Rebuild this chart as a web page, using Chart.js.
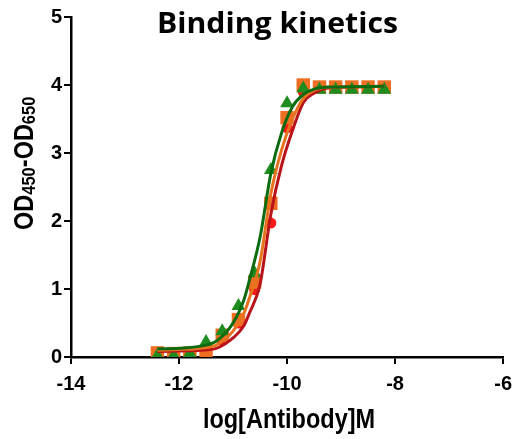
<!DOCTYPE html>
<html>
<head>
<meta charset="utf-8">
<script src="https://cdn.jsdelivr.net/npm/chart.js@4/dist/chart.umd.min.js"></script>
<style>
  body { margin: 0; background: #fff; }
  canvas { display: block; }
</style>
</head>
<body>
<canvas id="binding" width="520" height="439"></canvas>
<script>
// measured points (2-fold dilutions, log M)
const logConc = [-12.4, -12.1, -11.8, -11.5, -11.2, -10.9, -10.6, -10.3, -10.0, -9.7, -9.4, -9.1, -8.8, -8.5, -8.2];
const greenOD  = [0.02, 0.02, 0.05, 0.22, 0.38, 0.75, 1.23, 2.75, 3.73, 3.95, 3.93, 3.93, 3.93, 3.93, 3.93];
const orangeOD = [0.06, 0.05, 0.06, 0.08, 0.32, 0.55, 1.10, 2.26, 3.52, 4.00, 3.97, 3.97, 3.97, 3.97, 3.97];
const redOD    = [0.03, 0.03, 0.05, 0.10, 0.25, 0.50, 0.99, 1.97, 3.37, 3.90, 3.95, 3.95, 3.95, 3.95, 3.95];

// fitted curves
const curveX      = [-12.4, -12.0, -11.6, -11.3, -11.0, -10.8, -10.7, -10.5, -10.3, -10.1, -9.9, -9.7, -9.5, -9.2, -8.2];
const greenCurve  = [0.12, 0.13, 0.16, 0.24, 0.50, 0.84, 1.12, 1.76, 2.70, 3.30, 3.68, 3.86, 3.94, 3.97, 3.98];
const orangeCurve = [0.10, 0.11, 0.13, 0.18, 0.38, 0.64, 0.86, 1.40, 2.40, 3.05, 3.50, 3.80, 3.92, 3.97, 3.98];
const redCurve    = [0.08, 0.09, 0.10, 0.13, 0.28, 0.46, 0.64, 1.07, 2.10, 2.82, 3.33, 3.74, 3.88, 3.96, 3.98];

const xTicks = [-14, -12, -10, -8, -6];
const yTicks = [0, 1, 2, 3, 4, 5];

const titleText = 'Binding kinetics';
const xTitle = 'log[Antibody]M';

function pairs(xs, ys){
  return xs.map((x, i) => ({ x: x, y: ys[i] }));
}

function curve(label, xs, ys, color){
  return {
    label: label,
    data: pairs(xs, ys),
    showLine: true,
    cubicInterpolationMode: 'monotone',
    borderColor: color,
    borderWidth: 3,
    pointRadius: 0,
  }
}

function markers(label, ys, style, radius, color){
  return {
    label: label,
    data: pairs(logConc, ys),
    showLine: false,
    pointStyle: style,
    pointRadius: radius,
    pointBackgroundColor: color,
    pointBorderColor: color,
    pointBorderWidth: 0,
  }
}

const labelsPlugin = {
  id: 'labels',
  afterDraw(chart){
    const ctx = chart.ctx;
    ctx.save();
    ctx.fillStyle = '#000';

    // chart title
    ctx.font = 'bold 29px "Open Sans"';
    ctx.textBaseline = 'alphabetic';
    ctx.textAlign = 'left';
    let w = ctx.measureText(titleText).width;
    ctx.save();
    ctx.translate(157, 33);
    ctx.scale(241 / w, 1);
    ctx.fillText(titleText, 0, 0);
    ctx.restore();

    // x axis title
    ctx.font = 'bold 27px "Liberation Sans"';
    ctx.save();
    ctx.translate(289, 428);
    ctx.scale(0.87, 1);
    ctx.textAlign = 'center';
    ctx.fillText(xTitle, 0, 0);
    ctx.restore();

    // y axis title with subscripts
    ctx.save();
    ctx.translate(33, 230);
    ctx.rotate(-Math.PI / 2);
    ctx.scale(0.87, 1);
    ctx.textAlign = 'left';
    let pos = 0;
    const parts = [['OD', false], ['450', true], ['-OD', false], ['650', true]];
    parts.forEach(([t, sub]) => {
      ctx.font = sub ? 'bold 19px "Liberation Sans"' : 'bold 27px "Liberation Sans"';
      ctx.fillText(t, pos, sub ? 2 : 0);
      pos += ctx.measureText(t).width;
    });
    ctx.restore();

    ctx.restore();
  }
};

const axisFont = { family: 'Liberation Sans', size: 20, weight: 'bold' };

new Chart(document.getElementById('binding'), {
  type: 'scatter',
  data: {
    datasets: [
      curve('green fit', curveX, greenCurve, '#0d6b10'),
      curve('orange fit', curveX, orangeCurve, '#e8731f'),
      curve('red fit', curveX, redCurve, '#b8141a'),
      markers('green', greenOD, 'triangle', 8, '#1e8c1e'),
      markers('orange', orangeOD, 'rect', 9.5, '#f06e22'),
      markers('red', redOD, 'circle', 5.5, '#ff1a1a'),
    ]
  },
  options: {
    responsive: false,
    animation: false,
    layout: { padding: { top: 17, right: 12, left: 0, bottom: 0 } },
    plugins: {
      legend: { display: false },
      tooltip: { enabled: false },
    },
    scales: {
      x: {
        type: 'linear',
        min: -14,
        max: -6,
        afterBuildTicks: axis => { axis.ticks = xTicks.map(v => ({ value: v })); },
        afterFit: axis => { axis.height = 82; },
        ticks: { color: '#000', font: axisFont, padding: 8 },
        grid: { drawOnChartArea: false, drawTicks: true, tickLength: 7, color: '#000', lineWidth: 2 },
        border: { display: true, color: '#000', width: 2.5 },
      },
      y: {
        type: 'linear',
        min: 0,
        max: 5,
        afterBuildTicks: axis => { axis.ticks = yTicks.map(v => ({ value: v })); },
        afterFit: axis => { axis.width = 71; },
        ticks: { color: '#000', font: axisFont, padding: 2 },
        grid: { drawOnChartArea: false, drawTicks: true, tickLength: 7, color: '#000', lineWidth: 2 },
        border: { display: true, color: '#000', width: 2.5 },
      }
    }
  },
  plugins: [labelsPlugin]
});
</script>
</body>
</html>
